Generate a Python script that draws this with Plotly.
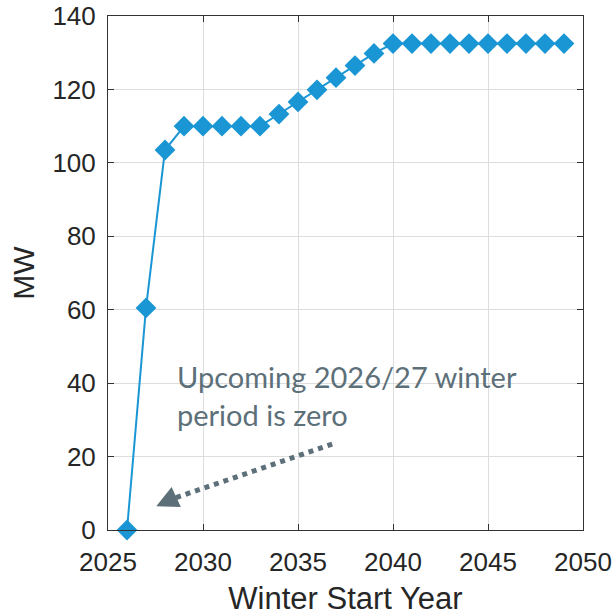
import plotly.graph_objects as go

# Winter start years and capacity (MW)
years = list(range(2026, 2050))
mw = [0, 60.5, 103.5, 110, 110, 110, 110, 110, 113.3, 116.6, 119.9, 123.2,
      126.5, 129.8, 132.5, 132.5, 132.5, 132.5, 132.5, 132.5, 132.5, 132.5,
      132.5, 132.5]

x_ticks = [2025, 2030, 2035, 2040, 2045, 2050]
y_ticks = [0, 20, 40, 60, 80, 100, 120, 140]

blue = "#1a96d4"
note_color = "#5d7079"
axis_font = "Liberation Sans, Arial, sans-serif"

fig = go.Figure()
fig.add_trace(go.Scatter(
    x=years, y=mw, mode="lines+markers", cliponaxis=False,
    line=dict(color=blue, width=2),
    marker=dict(symbol="diamond", size=16, color=blue),
    showlegend=False, hoverinfo="x+y",
))
fig.add_trace(go.Scatter(
    x=years, y=mw, mode="markers", cliponaxis=False,
    marker=dict(symbol="circle", size=12, color=blue),
    showlegend=False, hoverinfo="skip",
))

# Dotted pointer toward the first (zero) winter
fig.add_shape(type="line", x0=2036.8, y0=23.4, x1=2028.4, y1=8.5,
              line=dict(color=note_color, width=5, dash="dot"))
fig.add_annotation(x=2027.54, y=6.5, ax=2028.5, ay=8.8,
                   xref="x", yref="y", axref="x", ayref="y",
                   text="", showarrow=True, arrowhead=2, arrowsize=1.1,
                   arrowwidth=4, arrowcolor=note_color)
fig.add_annotation(x=2028.5, y=36.5, xref="x", yref="y",
                   text="Upcoming 2026/27 winter<br>period is zero",
                   showarrow=False, xanchor="left", yanchor="middle", align="left",
                   font=dict(family="Lato, Open Sans, sans-serif", size=29, color=note_color))

axis_common = dict(
    showline=True, linecolor="#333333", linewidth=1, mirror="ticks",
    ticks="inside", ticklen=6, tickcolor="#333333",
    showgrid=True, gridcolor="#dedede", gridwidth=1, zeroline=False,
    ticklabeloverflow="allow",
    tickfont=dict(family=axis_font, size=26, color="#262626"),
)

fig.update_xaxes(range=[2025, 2050], tickvals=x_ticks, ticklabelstandoff=9,
                 title=dict(text="Winter Start Year", standoff=12,
                            font=dict(family=axis_font, size=31, color="#262626")),
                 **axis_common)
fig.update_yaxes(range=[0, 140], tickvals=y_ticks, ticklabelstandoff=6,
                 title=dict(text="MW", standoff=8,
                            font=dict(family=axis_font, size=30, color="#262626")),
                 **axis_common)

fig.update_layout(
    width=616, height=616,
    margin=dict(l=108, r=33, t=16, b=86, autoexpand=False),
    plot_bgcolor="white", paper_bgcolor="white",
)

fig.write_html("out.html")
